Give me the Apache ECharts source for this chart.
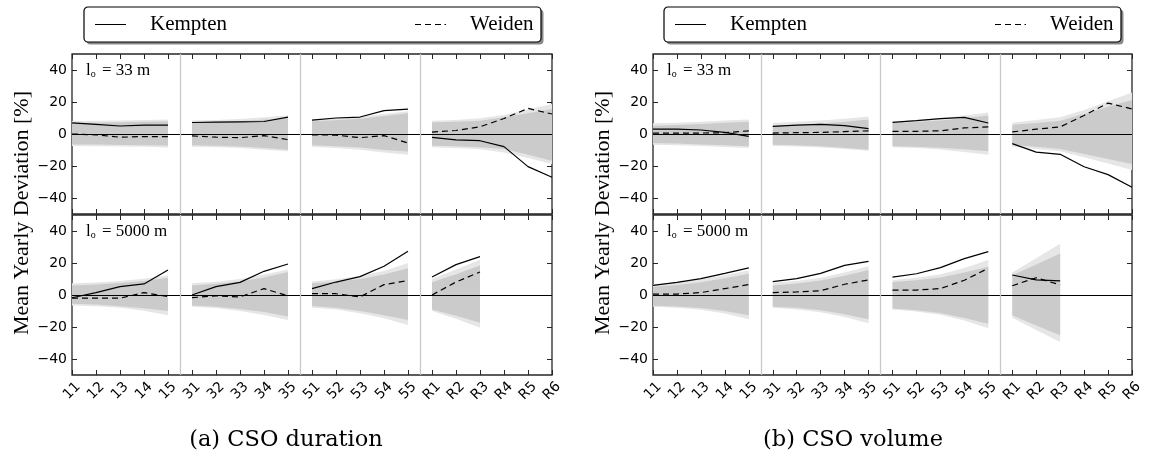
<!DOCTYPE html>
<html>
<head>
<meta charset="utf-8">
<script src="https://cdn.jsdelivr.net/npm/echarts@6/dist/echarts.min.js"></script>
<style>html,body{margin:0;padding:0;background:#fff}#c{width:1149px;height:458px}</style>
</head>
<body>
<div id="c"></div>
<script>
// ---- data ----
const categories = ['11','12','13','14','15','31','32','33','34','35','51','52','53','54','55','R1','R2','R3','R4','R5','R6'];
const groups = [[0,4],[5,9],[10,14],[15,20]];
const yTicks = [-40,-20,0,20,40];

// (a) CSO duration, l_o = 33 m
const durKempten33 = [6.9,6,5,5.6,5.5, 7.2,7.4,7.6,7.8,10.6, 8.7,10,10.6,14.6,15.6, -2.1,-3.7,-4.2,-7.9,-20.4,-27];
const durWeiden33  = [0,-0.5,-2,-1.6,-1.7, -1.2,-2,-2.3,-1,-3.5, -0.5,-0.7,-2.3,-1,-5.6, 1.2,2.2,4.5,9.7,16,12.5];
const durInnerHi33 = [7,7.1,7.3,7.6,7.8, 7.3,7.6,8,9,10, 8,8.6,9.5,11.2,13, 7.3,7.6,8.3,10.4,13,15.6];
const durInnerLo33 = [-6.5,-6.6,-6.8,-7,-7.2, -7,-7.3,-7.8,-8.7,-9.8, -7,-7.6,-8.5,-10,-11, -7.3,-7.7,-8.3,-9.4,-13,-16.7];
const durOuterHi33 = [8.2,8.3,8.5,8.8,9, 8.5,8.8,9.3,10.5,11.5, 9,9.8,10.8,12.5,14.2, 8.3,8.8,9.8,11.9,15.3,18.8];
const durOuterLo33 = [-7.5,-7.6,-7.8,-8,-8.4, -8,-8.3,-8.8,-9.8,-10.8, -8,-8.7,-9.8,-11.5,-13, -8.3,-8.8,-9.5,-11.5,-15,-18.8];

// (a) CSO duration, l_o = 5000 m
const durKempten5000 = [-1.7,1.5,5.2,6.9,15.6, 0,5.2,7.9,14.8,19.4, 4,8.1,11.5,18,27.3, 11.2,19,24,null,null,null];
const durWeiden5000  = [-2,-2,-2,1.5,-1, -1.7,-0.5,-1.2,4,-0.6, 0.8,0.8,-1.2,6.5,9, 0,8.1,14.4,null,null,null];
const durInnerHi5000 = [6,6.5,7.5,8.8,10.8, 6,7,8.5,11,14.4, 7.3,8.3,10,12.8,16.7, 8,13,18.5,null,null,null];
const durInnerLo5000 = [-5.4,-6,-7,-8.3,-10, -6.5,-7.3,-8.8,-10.7,-13.5, -6.9,-8,-10,-12.6,-15.6, -9,-13,-17.3,null,null,null];
const durOuterHi5000 = [7.3,7.8,8.8,10.2,12.3, 7.3,8.3,10,12.8,16, 8.5,9.8,11.8,15,20, 10,16,22,null,null,null];
const durOuterLo5000 = [-6.5,-7,-8,-9.8,-12.7, -7.3,-8.2,-10,-12.5,-15.6, -7.9,-9.1,-11.4,-14.5,-18.7, -10,-14.8,-20.4,null,null,null];

// (b) CSO volume, l_o = 33 m
const volKempten33 = [3.1,3,2.5,1,-1.5, 4.8,5.6,6,5.2,3.3, 7.3,8.3,9.6,10.4,6.9, -6,-11.3,-12.7,-20.5,-25.4,-33.3];
const volWeiden33  = [0.6,0.6,0.6,0.8,2, 0.6,0.8,1,1.5,2, 1.7,1.7,2,3.8,4.4, 1.3,3,4.4,11.6,19.3,15.7];
const volInnerHi33 = [5.2,5.6,6.2,7,7.7, 5.2,5.8,6.6,7.7,9, 6.9,7.5,8.4,9.8,11.5, 5.8,6.8,8.3,12.5,17,21.3];
const volInnerLo33 = [-5.6,-6,-6.5,-7.1,-7.7, -6.7,-7,-7.6,-8.6,-9.8, -7.7,-8,-8.6,-9.6,-10.8, -6.7,-8,-9.4,-12.5,-15.6,-18.8];
const volOuterHi33 = [6.7,7.1,7.7,8.4,9, 6.9,7.6,8.4,9.6,11, 7.9,8.6,9.8,11.5,13.5, 7.1,8.7,10.4,15,20.5,26];
const volOuterLo33 = [-6.7,-7,-7.5,-8.1,-8.7, -7.5,-7.8,-8.4,-9.4,-10.4, -8.3,-8.8,-9.7,-11.2,-13, -7.9,-9.3,-10.8,-14.6,-18.5,-22.5];

// (b) CSO volume, l_o = 5000 m
const volKempten5000 = [6,7.9,10.2,13.5,16.9, 8.3,10.2,13.5,18.5,21, 11.2,13.3,17.1,22.7,27.1, 12.5,9.4,8.8,null,null,null];
const volWeiden5000  = [0.6,0.6,1.5,4,6.5, 1.5,1.9,2.7,6.7,9.4, 3.1,3.1,4,9.2,16.7, 5.8,10.8,6.3,null,null,null];
const volInnerHi5000 = [5.2,6.2,8,10.5,13.3, 6,7.2,9,12,15.6, 8.1,9.2,11,14,17.7, 12.3,19,26,null,null,null];
const volInnerLo5000 = [-6.7,-7.2,-8.2,-10,-12.7, -7.3,-8,-9.5,-12,-15.2, -8.5,-9.5,-11.3,-14.3,-17.9, -12.7,-19,-25.2,null,null,null];
const volOuterHi5000 = [6.7,7.8,9.8,12.4,15.4, 7.7,8.8,10.8,14,18, 9.4,10.8,13,16.8,21.9, 14,23,32,null,null,null];
const volOuterLo5000 = [-7.3,-8,-9.2,-11.5,-15.2, -8,-9,-10.8,-13.8,-17.7, -9.1,-10.3,-12.4,-16,-20.8, -14.2,-21.8,-29.4,null,null,null];

// ---- chart ----
const SERIF = "'Liberation Serif','DejaVu Serif',serif";
const CAPTION = "'DejaVu Serif','Liberation Serif',serif";
const SANS = "'DejaVu Sans',sans-serif";
const panels = [
  {k:durKempten33, w:durWeiden33, inLo:durInnerLo33, inHi:durInnerHi33, outLo:durOuterLo33, outHi:durOuterHi33, lo:'33 m'},
  {k:durKempten5000, w:durWeiden5000, inLo:durInnerLo5000, inHi:durInnerHi5000, outLo:durOuterLo5000, outHi:durOuterHi5000, lo:'5000 m'},
  {k:volKempten33, w:volWeiden33, inLo:volInnerLo33, inHi:volInnerHi33, outLo:volOuterLo33, outHi:volOuterHi33, lo:'33 m'},
  {k:volKempten5000, w:volWeiden5000, inLo:volInnerLo5000, inHi:volInnerHi5000, outLo:volOuterLo5000, outHi:volOuterHi5000, lo:'5000 m'}
];
const gridRects = [
  {left:72, top:54, width:480, height:160},
  {left:72, top:215, width:480, height:160},
  {left:653, top:54, width:479, height:160},
  {left:653, top:215, width:479, height:160}
];
const minus = v => String(v).replace('-', '\u2212');

const grid = gridRects.map(r => Object.assign({show:true, borderColor:'#262626', borderWidth:1.3, backgroundColor:'rgba(0,0,0,0)'}, r));
const xAxis = [], yAxis = [];
gridRects.forEach((r, g) => {
  ['bottom','top'].forEach(pos => {
    xAxis.push({gridIndex:g, type:'value', min:0, max:20, interval:1, position:pos,
      axisLine:{show:false, onZero:false}, splitLine:{show:false},
      axisTick:{inside:true, length:5, lineStyle:{color:'#262626', width:1}},
      axisLabel:{show: pos==='bottom' && g%2===1, rotate:45, align:'center', verticalAlign:'middle', margin:16,
        fontFamily:SANS, fontSize:14, color:'#000',
        formatter: v => categories[Math.round(v)], showMinLabel:true, showMaxLabel:true, hideOverlap:false}
    });
  });
  ['left','right'].forEach(pos => {
    yAxis.push({gridIndex:g, type:'value', min:-50, max:50, position:pos,
      axisLine:{show:false, onZero:false}, splitLine:{show:false},
      axisTick:{inside:true, length:5, customValues:yTicks, lineStyle:{color:'#262626', width:1}},
      axisLabel:{show: pos==='left', customValues:yTicks, margin:5, fontFamily:SANS, fontSize:14, color:'#000', formatter: minus}
    });
  });
});

function lineData(arr) {
  const out = [];
  groups.forEach(([s, e]) => {
    for (let i = s; i <= e; i++) out.push([i, arr[i] == null ? '-' : arr[i]]);
    out.push([e + 0.5, '-']);
  });
  return out;
}
function bandSeries(g, lo, hi, color) {
  return {
    type:'custom', xAxisIndex:g*2, yAxisIndex:g*2, silent:true, z:1, animation:false,
    data: groups.map(r => [r[0], r[1]]),
    renderItem: (params, api) => {
      const s = api.value(0), e = api.value(1);
      const top = [], bot = [];
      for (let i = s; i <= e; i++) {
        if (hi[i] == null || lo[i] == null) continue;
        top.push(api.coord([i, hi[i]]));
        bot.unshift(api.coord([i, lo[i]]));
      }
      if (top.length < 2) return null;
      return {type:'polygon', shape:{points: top.concat(bot)}, style:{fill:color}};
    }
  };
}

const series = [];
panels.forEach((p, g) => {
  series.push(bandSeries(g, p.outLo, p.outHi, '#e6e6e6'));
  series.push(bandSeries(g, p.inLo, p.inHi, '#cbcbcb'));
  series.push({
    name:'Kempten', type:'line', xAxisIndex:g*2, yAxisIndex:g*2, data: lineData(p.k), symbol:'none',
    connectNulls:false, z:3, animation:false, lineStyle:{color:'#000', width:1.2, type:'solid'}, itemStyle:{color:'#000'},
    markLine:{silent:true, symbol:['none','none'], label:{show:false}, animation:false,
      data:[
        {yAxis:0, lineStyle:{color:'#000', width:1.2, type:'solid'}},
        {xAxis:4.5, lineStyle:{color:'#c8c8c8', width:1.3, type:'solid'}},
        {xAxis:9.5, lineStyle:{color:'#c8c8c8', width:1.3, type:'solid'}},
        {xAxis:14.5, lineStyle:{color:'#c8c8c8', width:1.3, type:'solid'}}
      ]}
  });
  series.push({
    name:'Weiden', type:'line', xAxisIndex:g*2, yAxisIndex:g*2, data: lineData(p.w), symbol:'none',
    connectNulls:false, z:3, animation:false, lineStyle:{color:'#000', width:1.2, type:[6,4]}, itemStyle:{color:'#000'}
  });
});

const solidIcon = 'path://M0,0H31V1H0Z';
const dashIcon = 'path://M0,0H6V1H0ZM10,0H16V1H10ZM20,0H26V1H20ZM29.5,0H31V1H29.5Z';
const legendCommon = {orient:'horizontal', padding:0, itemWidth:31, itemHeight:1.3, selectedMode:false, z:10,
  textStyle:{fontFamily:SERIF, fontSize:21, color:'#000', padding:[0,0,0,19]}};
const boxes = [84, 664];
const legend = [];
boxes.forEach(bx => {
  legend.push(Object.assign({data:[{name:'Kempten', icon:solidIcon}], left:bx+11, top:14}, legendCommon));
  legend.push(Object.assign({data:[{name:'Weiden', icon:dashIcon}], left:bx+331, top:14}, legendCommon));
});

const graphic = [];
boxes.forEach(bx => {
  graphic.push({type:'rect', z:4, silent:true, shape:{x:bx+2.5, y:9.5, width:457, height:35, r:4},
    style:{fill:'#8a8a8a'}});
  graphic.push({type:'rect', z:5, silent:true, shape:{x:bx, y:7, width:457, height:35, r:4},
    style:{fill:'#fff', stroke:'#000', lineWidth:1.2}});
});
// y labels
[22, 603].forEach(x => {
  graphic.push({type:'text', x:x, y:213, rotation:Math.PI/2, silent:true, z:5,
    style:{text:'Mean Yearly Deviation [%]', fontFamily:SERIF, fontSize:22, fill:'#000', align:'center', verticalAlign:'middle', textAlign:'center', textVerticalAlign:'middle'}});
});
// captions
[['(a) CSO duration', 286], ['(b) CSO volume', 853]].forEach(([t, x]) => {
  graphic.push({type:'text', x:x, y:440, silent:true, z:5,
    style:{text:t, fontFamily:CAPTION, fontSize:22.5, fill:'#000', align:'center', verticalAlign:'middle', textAlign:'center', textVerticalAlign:'middle'}});
});
// l_o annotations
panels.forEach((p, g) => {
  const r = gridRects[g];
  graphic.push({type:'text', x:r.left + 14, y:r.top + 15, silent:true, z:5,
    style:{text:'{a|l}{s|o}{a| = ' + p.lo + '}', fill:'#000', align:'left', verticalAlign:'middle',
      rich:{a:{fontFamily:SERIF, fontSize:17, fill:'#000', verticalAlign:'bottom', lineHeight:20},
            s:{fontFamily:SERIF, fontSize:10, fill:'#000', verticalAlign:'bottom', lineHeight:20, padding:[0,2,0,0]}}}});
});

const chart = echarts.init(document.getElementById('c'), null, {renderer:'canvas'});
chart.setOption({animation:false, grid, xAxis, yAxis, series, legend, graphic});
</script>
</body>
</html>
